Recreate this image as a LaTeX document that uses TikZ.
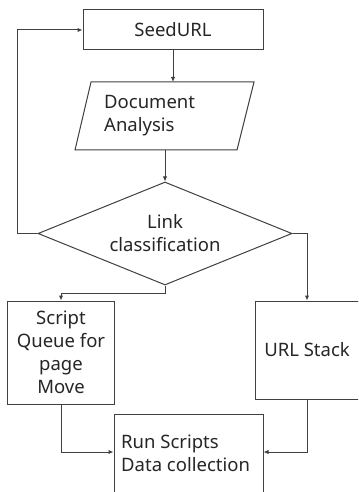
\documentclass[tikz,border=0pt]{standalone}
\usepackage{fontspec}
\setmainfont{Noto Sans}
\usetikzlibrary{shapes.geometric,arrows.meta,calc}
\begin{document}
\begin{tikzpicture}[x=1bp,y=-1bp,
  line/.style={draw=black!75, line width=1bp},
  arr/.style={line, -{Latex[length=5bp,width=4.5bp]}},
  box/.style={line, rectangle, inner sep=0pt},
  txt/.style={font=\fontsize{18.5bp}{23bp}\selectfont, text=black!85, inner sep=0pt}
]
\useasboundingbox (0,0) rectangle (358,492);
\clip (0,0) rectangle (358,492);
\fill[white] (0,0) rectangle (358,492);

\node[box, minimum width=180bp, minimum height=40bp] (seed) at (173,30) {};
\node[txt] (seedt) at (seed) {SeedURL};

\draw[line] (91,82) -- (254,82) -- (237,150) -- (75,150) -- cycle;
\coordinate (datop) at (173,82);
\coordinate (dabot) at (165,150);
\node[txt, align=left, anchor=west] (dat) at (104,116) {Document\\Analysis};

\node[line, diamond, minimum width=254bp, minimum height=103bp, inner sep=0pt] (lc) at (165,233.5) {};
\node[txt, align=center] (lct) at (165,233.5) {Link\\classification};

\node[box, minimum width=106bp, minimum height=103bp] (script) at (61,352.5) {};
\node[txt, align=center] (scriptt) at (script) {Script\\Queue for\\page\\Move};

\node[box, minimum width=104bp, minimum height=98bp] (url) at (307,350) {};
\node[txt] (urlt) at (url) {URL Stack};

\node[box, minimum width=149bp, minimum height=100bp] (run) at (188.5,464) {};
\node[txt, align=left, anchor=west] (runt) at (121,453.5) {Run Scripts\\Data collection};

\draw[arr] (seed.south) -- (datop);
\draw[arr] (dabot) -- (lc.north);
\draw[arr] (lc.west) -- ++(-20,0) |- (seed.west);
\draw[arr] (lc.east) -| (url.north);
\draw[arr] (lc.south) -- ++(0,8) -| (script.north);
\draw[arr] (script.south) |- ([yshift=12bp]run.west);
\draw[arr] (url.south) |- ([yshift=12bp]run.east);
\end{tikzpicture}
\end{document}
